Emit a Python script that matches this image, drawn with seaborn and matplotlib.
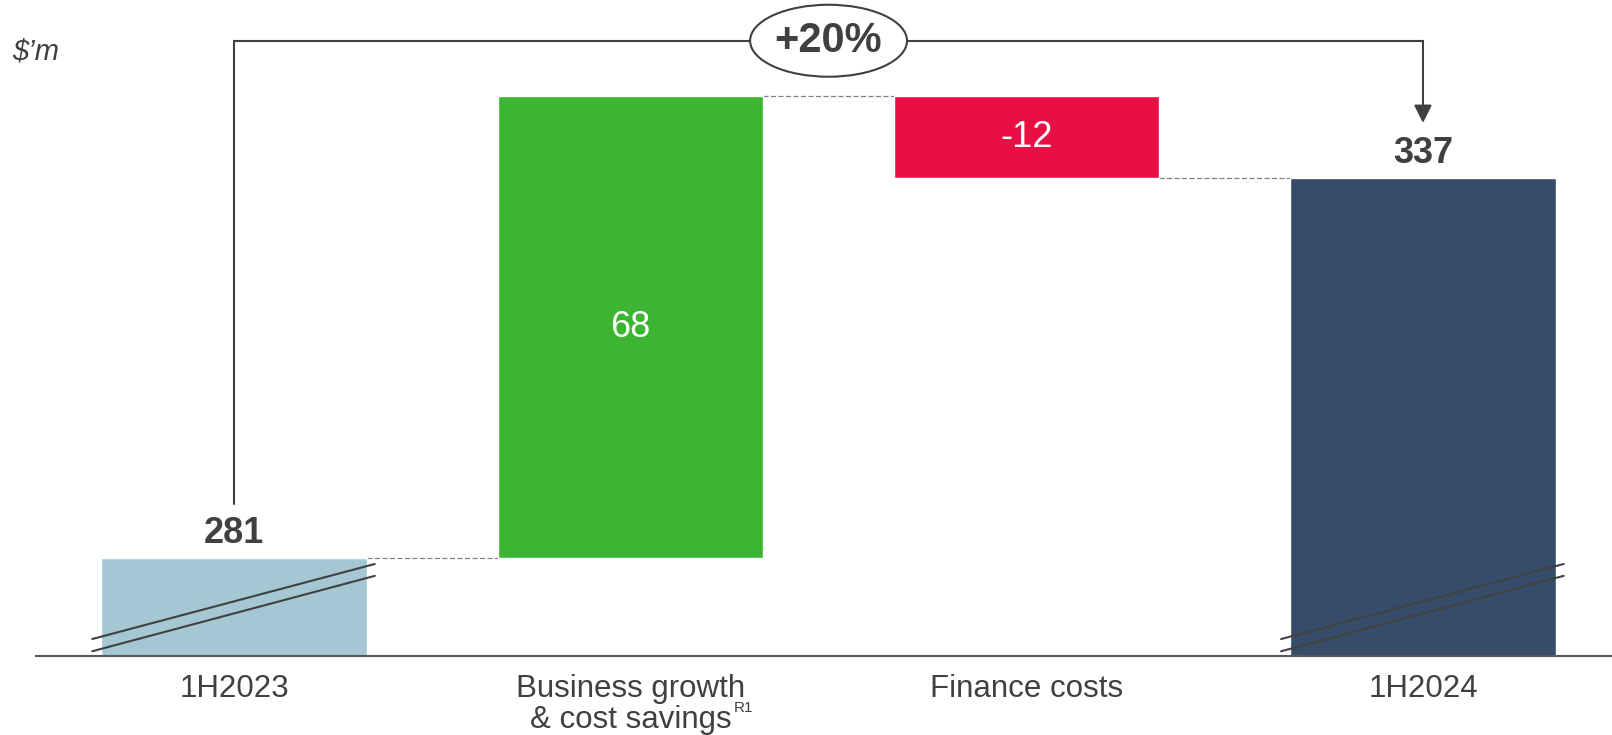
import pandas as pd
import seaborn as sns
import matplotlib.pyplot as plt
from matplotlib.patches import Ellipse

# waterfall data ($'m)
categories = ['1H2023', 'Business growth & cost savings', 'Finance costs', '1H2024']
tick_labels = ['1H2023', 'Business growth\n& cost savings', 'Finance costs', '1H2024']
start_value = 281
deltas = [68, -12]
end_value = 337
change_label = '+20%'
bar_colors = ['#A4C7D3', '#3DB532', '#E80F44', '#364C6A']

sns.set_theme(style='white')
plt.rcParams['font.family'] = ['Liberation Sans', 'DejaVu Sans']
text_col = '#404040'

fig = plt.figure(figsize=(16.12, 7.35), dpi=100)
ax = fig.add_axes([36 / 1612, 79 / 735, 1576 / 1612, 656 / 735])

bar_w = 0.67
y_bottom, y_top = 266.6, 363.2

# totals with seaborn
totals = pd.DataFrame({'stage': [categories[0], categories[3]],
                       'value': [start_value, end_value]})
sns.barplot(data=totals, x='stage', y='value', order=categories, hue='stage',
            palette={categories[0]: bar_colors[0], categories[3]: bar_colors[3]},
            width=bar_w, saturation=1, legend=False, ax=ax, zorder=2)

# floating bars
levels = [start_value]
for d in deltas:
    levels.append(levels[-1] + d)
for i, d in enumerate(deltas, start=1):
    ax.bar(i, d, bottom=levels[i - 1], width=bar_w, color=bar_colors[i], zorder=2)
    ax.text(i, levels[i - 1] + d / 2, f'{d}', ha='center', va='center',
            color='white', fontsize=26, zorder=4)

# dashed connectors
for i, lvl in enumerate(levels):
    ax.plot([i + bar_w / 2, i + 1 - bar_w / 2], [lvl, lvl], color='#808080',
            lw=0.9, ls=(0, (4, 2)), zorder=1)

# total labels
for i, v in [(0, start_value), (3, end_value)]:
    ax.text(i, v + 1.0, f'{v}', ha='center', va='bottom', fontsize=26,
            fontweight='bold', color=text_col)

# axis-break marks on total bars
for i in (0, 3):
    xs = [i - bar_w / 2 - 0.023, i + bar_w / 2 + 0.02]
    ax.plot(xs, [y_bottom + 2.5, y_bottom + 13.55], color=text_col, lw=1.5, zorder=3)
    ax.plot(xs, [y_bottom + 0.7, y_bottom + 11.8], color=text_col, lw=1.5, zorder=3)

# growth bracket
bracket_y = 357.2
ax.plot([0, 0, 3], [start_value + 8, bracket_y, bracket_y], color=text_col,
        lw=1.5, zorder=3, solid_joinstyle='miter')
ax.annotate('', xy=(3, end_value + 8.1), xytext=(3, bracket_y),
            arrowprops=dict(arrowstyle='-|>', mutation_scale=27, lw=1.5,
                            color=text_col, shrinkA=0, shrinkB=0), zorder=3)
ax.add_patch(Ellipse((1.5, bracket_y), 0.396, 10.6, facecolor='white',
                     edgecolor=text_col, lw=1.5, zorder=4))
ax.text(1.5, bracket_y, change_label, ha='center', va='center', fontsize=30,
        fontweight='bold', color=text_col, zorder=5)

ax.set_xlim(-0.5, 3.477)
ax.set_ylim(y_bottom, y_top)
ax.set_xticks(range(len(categories)))
ax.set_xticklabels(tick_labels, fontsize=22.5, color=text_col, linespacing=1.05)
ax.tick_params(axis='x', length=0, pad=13)
ax.set_yticks([])
ax.set_xlabel('')
ax.set_ylabel('')
for s in ('left', 'top', 'right'):
    ax.spines[s].set_visible(False)
ax.spines['bottom'].set_color('#595959')
ax.spines['bottom'].set_linewidth(1.5)

ax.text(1.285, -0.079, 'R1', transform=ax.get_xaxis_transform(), fontsize=11,
        ha='center', va='center', color=text_col)

fig.text(12 / 1612, 1 - 51 / 735, '$\u2019m', fontsize=21, style='italic',
         color=text_col, va='center', ha='left')

fig.savefig('out.png', dpi=100)
